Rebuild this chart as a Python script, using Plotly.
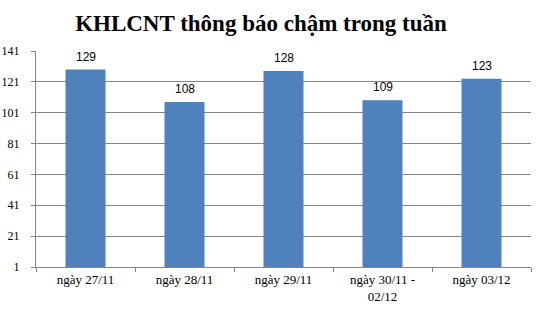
import plotly.graph_objects as go

categories = ["ngày 27/11", "ngày 28/11", "ngày 29/11", "ngày 30/11 -<br>02/12", "ngày 03/12"]
values = [129, 108, 128, 109, 123]
tick_vals = [1, 21, 41, 61, 81, 101, 121, 141]
title_text = "KHLCNT thông báo chậm trong tuần"

fig = go.Figure()
fig.add_trace(go.Bar(x=categories, y=values, marker=dict(color="#4F81BD", line=dict(width=0)),
                     hoverinfo="skip"))

for c, v in zip(categories, values):
    fig.add_annotation(x=c, y=v, text=str(v), showarrow=False, yanchor="bottom", yshift=4,
                       font=dict(family="Liberation Sans, Arial", size=12, color="#000000"))

fig.update_layout(
    width=541, height=311,
    margin=dict(l=36, r=10, t=51, b=44),
    paper_bgcolor="white", plot_bgcolor="white",
    bargap=0.596,
    showlegend=False,
    title=dict(text="<b>" + title_text + "</b>", x=261 / 541, xanchor="center", xref="container",
               y=1 - 23 / 311, yanchor="middle", yref="container",
               font=dict(family="Liberation Serif, Times New Roman", size=23, color="#000000")),
)
fig.update_xaxes(
    type="category", showline=True, linecolor="#868686", linewidth=1,
    ticks="outside", tickson="boundaries", ticklen=4, tickcolor="#868686",
    tickfont=dict(family="Liberation Serif, Times New Roman", size=13, color="#000000"),
    showgrid=False, automargin=False,
)
fig.update_yaxes(
    range=[1, 141], tickvals=tick_vals, ticktext=[str(t) for t in tick_vals],
    showline=True, linecolor="#868686", linewidth=1,
    ticks="outside", ticklen=4, tickcolor="#868686",
    showgrid=True, gridcolor="#868686", gridwidth=1, zeroline=False,
    tickfont=dict(family="Liberation Serif, Times New Roman", size=12, color="#000000"),
    ticklabelstandoff=9, automargin=False,
)
fig.write_html("out.html")
